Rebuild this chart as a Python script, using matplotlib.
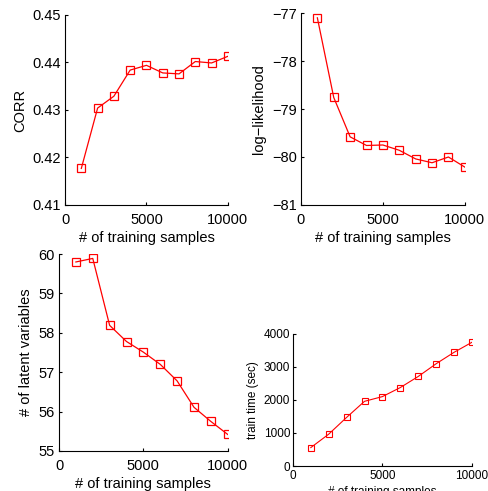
import matplotlib
matplotlib.use('Agg')
import matplotlib.pyplot as plt

plt.rcParams['font.family'] = ['Liberation Sans', 'DejaVu Sans']

# data
n_samples = [1000, 2000, 3000, 4000, 5000, 6000, 7000, 8000, 9000, 10000]
corr = [0.4177, 0.4304, 0.4329, 0.4384, 0.4394, 0.4378, 0.4376, 0.4402, 0.4399, 0.4413]
loglik = [-77.10, -78.76, -79.58, -79.76, -79.75, -79.86, -80.04, -80.12, -80.00, -80.21]
n_latent = [59.80, 59.89, 58.19, 57.78, 57.51, 57.20, 56.78, 56.11, 55.75, 55.42]
train_time = [558, 964, 1472, 1959, 2102, 2376, 2711, 3096, 3442, 3746]


def style(ax, fs, xpad, ypad):
	ax.spines['top'].set_visible(False)
	ax.spines['right'].set_visible(False)
	ax.spines['left'].set_linewidth(0.8)
	ax.spines['bottom'].set_linewidth(0.8)
	ax.tick_params(direction='in', length=2.5, width=0.8, labelsize=fs)
	ax.tick_params(axis='x', pad=xpad)
	ax.tick_params(axis='y', pad=ypad)
	ax.set_xlim(0, 10000)
	ax.set_xticks([0, 5000, 10000])


fig = plt.figure(figsize=(4.89, 4.91), dpi=100)

ax1 = fig.add_axes([0.133, 0.5825, 0.333, 0.387])
ax1.plot(n_samples, corr, color='red', lw=0.9, marker='s', ms=6, mfc='none', mew=0.9)
style(ax1, 10.5, 5.5, 3)
ax1.set_ylim(0.41, 0.45)
ax1.set_yticks([0.41, 0.42, 0.43, 0.44, 0.45])
ax1.set_ylabel('CORR', fontsize=10.5)
ax1.set_xlabel('# of training samples', fontsize=10.5, labelpad=3)

ax2 = fig.add_axes([0.6155, 0.5825, 0.335, 0.391])
ax2.plot(n_samples, loglik, color='red', lw=0.9, marker='s', ms=6, mfc='none', mew=0.9)
style(ax2, 10.5, 5.5, 3)
ax2.set_ylim(-81, -77)
ax2.set_yticks([-81, -80, -79, -78, -77])
ax2.set_yticklabels(['\u221281', '\u221280', '\u221279', '\u221278', '\u221277'])
ax2.set_ylabel('log\u2212likelihood', fontsize=10.5)
ax2.set_xlabel('# of training samples', fontsize=10.5, labelpad=3)

ax3 = fig.add_axes([0.1207, 0.0815, 0.345, 0.401])
ax3.plot(n_samples, n_latent, color='red', lw=0.9, marker='s', ms=6, mfc='none', mew=0.9)
style(ax3, 10.5, 5.5, 3)
ax3.set_ylim(55, 60)
ax3.set_yticks([55, 56, 57, 58, 59, 60])
ax3.set_ylabel('# of latent variables', fontsize=10.5)
ax3.set_xlabel('# of training samples', fontsize=10.5, labelpad=3)

ax4 = fig.add_axes([0.599, 0.0509, 0.366, 0.269])
ax4.plot(n_samples, train_time, color='red', lw=0.8, marker='s', ms=4.5, mfc='none', mew=0.8)
style(ax4, 8.5, 3, 2)
ax4.tick_params(length=2)
ax4.set_ylim(0, 4000)
ax4.set_yticks([0, 1000, 2000, 3000, 4000])
ax4.set_ylabel('train time (sec)', fontsize=8.5, labelpad=3)
ax4.set_xlabel('# of training samples', fontsize=8.5, labelpad=3)

fig.savefig('out.png', dpi=100)
